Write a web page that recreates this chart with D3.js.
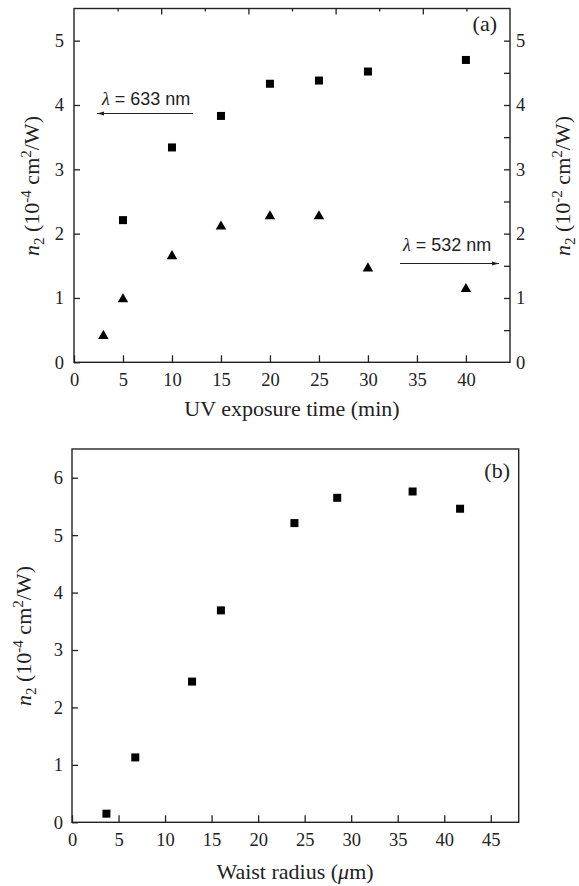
<!DOCTYPE html>
<html>
<head>
<meta charset="utf-8">
<script src="https://cdn.jsdelivr.net/npm/d3@7"></script>
<style>
  html, body { margin: 0; padding: 0; background: #fff; }
  svg { display: block; }
  .tick text { font-family: "Liberation Serif", "Times New Roman", serif; font-size: 18.5px; fill: #222; }
  .domain { display: none; }
  .tick line { stroke: #222; stroke-width: 1.3; }
</style>
</head>
<body>
<svg id="chart" width="579" height="886"></svg>
<script>
// ---- Data: panel (a) ----
const timeA633 = [5, 10, 15, 20, 25, 30, 40];
const n2at633 = [2.21, 3.34, 3.83, 4.33, 4.38, 4.52, 4.70];   // left axis, 10^-4 cm^2/W
const timeA532 = [3, 5, 10, 15, 20, 25, 30, 40];
const n2at532 = [0.41, 0.98, 1.65, 2.11, 2.27, 2.27, 1.46, 1.14]; // right axis, 10^-2 cm^2/W
const ticksXA = [0, 5, 10, 15, 20, 25, 30, 35, 40];
const ticksYA = [0, 1, 2, 3, 4, 5];

// ---- Data: panel (b) ----
const waistRadius = [3.7, 6.8, 12.9, 16.0, 23.9, 28.5, 36.6, 41.7];
const n2Waist = [0.15, 1.13, 2.45, 3.69, 5.21, 5.65, 5.76, 5.46];
const ticksXB = [0, 5, 10, 15, 20, 25, 30, 35, 40, 45];
const ticksYB = [0, 1, 2, 3, 4, 5, 6];

const svg = d3.select("#chart");
const serif = '"Liberation Serif", "Times New Roman", serif';
const sans = '"Liberation Sans", Arial, sans-serif';
const ink = "#222";

svg.append("defs").append("marker")
  .attr("id", "arrow").attr("viewBox", "0 0 10 6")
  .attr("refX", 10).attr("refY", 3)
  .attr("markerWidth", 7).attr("markerHeight", 4.2)
  .attr("markerUnits", "userSpaceOnUse")
  .attr("orient", "auto")
  .append("path").attr("d", "M0,0 L10,3 L0,6 Z").attr("fill", ink);

function frame(g, x0, y0, x1, y1) {
  g.append("rect").attr("x", x0).attr("y", y0)
    .attr("width", x1 - x0).attr("height", y1 - y0)
    .attr("fill", "none").attr("stroke", ink).attr("stroke-width", 1.4);
}

function yTitle(g, x, y, exp) {
  const t = g.append("text")
    .attr("transform", `translate(${x},${y}) rotate(-90)`)
    .attr("text-anchor", "middle")
    .attr("font-family", serif).attr("font-size", 22).attr("fill", ink);
  t.append("tspan").attr("font-style", "italic").text("n");
  t.append("tspan").attr("font-size", 15).attr("dy", 5).text("2");
  t.append("tspan").attr("dy", -5).text(" (10");
  t.append("tspan").attr("font-size", 15).attr("dy", -8).text(exp);
  t.append("tspan").attr("dy", 8).text(" cm");
  t.append("tspan").attr("font-size", 15).attr("dy", -8).text("2");
  t.append("tspan").attr("dy", 8).text("/W)");
}

// ================= Panel (a) =================
const A = { l: 74, t: 8.5, r: 510, b: 362.3 };
const xA = d3.scaleLinear().domain([0, 44.5]).range([A.l, A.r]);
const yA = d3.scaleLinear().domain([0, 5.5]).range([A.b, A.t]);
const yA2 = d3.scaleLinear().domain([0, 5.5]).range([A.b, A.t]);
const xTop = d3.scaleLinear().domain([0, 10]).range([A.l, A.r]);
const gA = svg.append("g");

gA.append("g").attr("transform", `translate(0,${A.b})`)
  .call(d3.axisBottom(xA).tickValues(ticksXA).tickSize(-7).tickPadding(11).tickFormat(d3.format("d")));
gA.append("g").attr("transform", `translate(${A.l},0)`)
  .call(d3.axisLeft(yA).tickValues(ticksYA).tickSize(-6).tickPadding(10).tickFormat(d3.format("d")));
gA.append("g").attr("transform", `translate(${A.r},0)`)
  .call(d3.axisRight(yA2).tickValues(d3.range(0.5, 5.01, 0.5)).tickSize(-6).tickFormat(""));
gA.append("g").attr("transform", `translate(${A.r},0)`)
  .call(d3.axisRight(yA2).tickValues(ticksYA).tickSize(0).tickPadding(6).tickFormat(d3.format("d")));
// top axis: minor and major ticks
gA.append("g").attr("transform", `translate(0,${A.t})`)
  .call(d3.axisTop(xTop).tickValues([1, 3, 5, 7, 9]).tickSize(-3).tickFormat(""));
gA.append("g").attr("transform", `translate(0,${A.t})`)
  .call(d3.axisTop(xTop).tickValues([2, 4, 6, 8]).tickSize(-6).tickFormat(""));
frame(gA, A.l, A.t, A.r, A.b);

gA.selectAll("rect.sq").data(timeA633.map((t, i) => [t, n2at633[i]])).join("rect")
  .attr("class", "sq")
  .attr("x", d => xA(d[0]) - 4).attr("y", d => yA(d[1]) - 4)
  .attr("width", 8).attr("height", 8).attr("fill", "#000");
gA.selectAll("path.tri").data(timeA532.map((t, i) => [t, n2at532[i]])).join("path")
  .attr("class", "tri")
  .attr("d", d3.symbol(d3.symbolTriangle, 48))
  .attr("transform", d => `translate(${xA(d[0])},${yA2(d[1])})`)
  .attr("fill", "#000");

gA.append("text").attr("x", 292).attr("y", 416).attr("text-anchor", "middle")
  .attr("font-family", serif).attr("font-size", 22).attr("fill", ink)
  .text("UV exposure time (min)");
yTitle(gA, 39, 186, "-4");
yTitle(gA, 570, 186, "-2");
gA.append("text").attr("x", 497).attr("y", 31).attr("text-anchor", "end")
  .attr("font-family", serif).attr("font-size", 22).attr("fill", ink).text("(a)");

function lambdaLabel(g, x, y, txt) {
  const t = g.append("text").attr("x", x).attr("y", y)
    .attr("font-family", sans).attr("font-size", 18).attr("fill", ink);
  t.append("tspan").attr("font-family", serif).attr("font-style", "italic").text("λ");
  t.append("tspan").text(" = " + txt);
}
lambdaLabel(gA, 102, 105, "633 nm");
gA.append("line").attr("x1", 193).attr("y1", 113.5).attr("x2", 97).attr("y2", 113.5)
  .attr("stroke", ink).attr("stroke-width", 1.2).attr("marker-end", "url(#arrow)");
lambdaLabel(gA, 403, 251, "532 nm");
gA.append("line").attr("x1", 400).attr("y1", 263.5).attr("x2", 499).attr("y2", 263.5)
  .attr("stroke", ink).attr("stroke-width", 1.2).attr("marker-end", "url(#arrow)");

// ================= Panel (b) =================
const B = { l: 72, t: 449, r: 518.7, b: 822.3 };
const xB = d3.scaleLinear().domain([0, 48]).range([B.l, B.r]);
const yB = d3.scaleLinear().domain([0, 6.5]).range([B.b, B.t]);
const gB = svg.append("g");

gB.append("g").attr("transform", `translate(0,${B.b})`)
  .call(d3.axisBottom(xB).tickValues(ticksXB).tickSize(-7).tickPadding(11).tickFormat(d3.format("d")));
gB.append("g").attr("transform", `translate(${B.l},0)`)
  .call(d3.axisLeft(yB).tickValues(ticksYB).tickSize(-6).tickPadding(9).tickFormat(d3.format("d")));
frame(gB, B.l, B.t, B.r, B.b);

gB.selectAll("rect.sq").data(waistRadius.map((w, i) => [w, n2Waist[i]])).join("rect")
  .attr("class", "sq")
  .attr("x", d => xB(d[0]) - 4).attr("y", d => yB(d[1]) - 4)
  .attr("width", 8).attr("height", 8).attr("fill", "#000");

const xtB = gB.append("text").attr("x", 295).attr("y", 879).attr("text-anchor", "middle")
  .attr("font-family", serif).attr("font-size", 22).attr("fill", ink);
xtB.append("tspan").text("Waist radius (");
xtB.append("tspan").attr("font-style", "italic").text("μ");
xtB.append("tspan").text("m)");
yTitle(gB, 31, 636, "-4");
gB.append("text").attr("x", 510).attr("y", 478).attr("text-anchor", "end")
  .attr("font-family", serif).attr("font-size", 22).attr("fill", ink).text("(b)");
</script>
</body>
</html>
